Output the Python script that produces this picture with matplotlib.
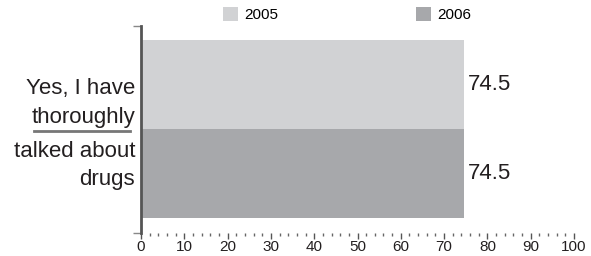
import matplotlib
matplotlib.use("Agg")
import matplotlib.pyplot as plt
from matplotlib.patches import Patch
from matplotlib.lines import Line2D
from matplotlib.ticker import MultipleLocator

categories = ["Yes, I have thoroughly talked about drugs"]
series_names = ["2005", "2006"]
values_2005 = [74.5]
values_2006 = [74.5]
colors = ["#d1d2d4", "#a7a8ab"]
x_ticks = [0, 10, 20, 30, 40, 50, 60, 70, 80, 90, 100]

FAM = ["Liberation Sans", "DejaVu Sans"]
plt.rcParams["font.family"] = FAM

W, H = 591, 256
fig = plt.figure(figsize=(W / 100, H / 100), dpi=100)

def fx(x):
    return x / W

def fy(y):
    return 1 - y / H

x0, x1 = 141, 574
ytop, ybot = 26, 233
ax = fig.add_axes([fx(x0), fy(ybot), (x1 - x0) / W, (ybot - ytop) / H])

bar_h = 0.99
ax.barh([0.5], values_2005, height=bar_h, color=colors[0], label=series_names[0], zorder=2)
ax.barh([-0.5], values_2006, height=bar_h, color=colors[1], label=series_names[1], zorder=2)

unit = (219 - 40) / 2.0  # px per data unit
ylo = -(ybot - 129) / unit
yhi = (129 - ytop) / unit
ax.set_ylim(ylo, yhi)
ax.set_xlim(0, 100)

for yv, v in zip([0.5, -0.5], [values_2005[0], values_2006[0]]):
    ax.annotate(f"{v}", xy=(v, yv), xytext=(3, 0), textcoords="offset points",
                ha="left", va="center", fontsize=16, color="#231f20")

ax.set_xticks(x_ticks)
ax.set_xticklabels([str(t) for t in x_ticks])
ax.xaxis.set_minor_locator(MultipleLocator(2))
ax.tick_params(axis="x", which="major", direction="out", length=4, width=1,
               color="#555555", labelsize=11, labelcolor="#231f20", pad=1)
ax.tick_params(axis="x", which="minor", direction="out", length=2, width=1,
               color="#666666")
ax.set_yticks([ylo, yhi])
ax.set_yticklabels([])
ax.tick_params(axis="y", direction="out", length=6, width=1, color="#888888")

for s in ["top", "right", "bottom"]:
    ax.spines[s].set_visible(False)
ax.spines["left"].set_color("#555555")
ax.spines["left"].set_linewidth(2)
ax.spines["left"].set_zorder(3)

lines = [("Yes, I have", 94), ("thoroughly", 123), ("talked about", 157), ("drugs", 185)]
for t, yb in lines:
    fig.text(fx(135), fy(yb), t, ha="right", va="baseline", fontsize=16, color="#231f20")
fig.add_artist(Line2D([fx(34), fx(130)], [fy(131), fy(131)], color="#777777", lw=2))

handles = [Patch(facecolor=colors[0], edgecolor="none"), Patch(facecolor=colors[1], edgecolor="none")]
fig.legend(handles, series_names, loc="upper left", bbox_to_anchor=(fx(223), fy(7)),
           ncol=2, frameon=False, fontsize=11, handlelength=1.0, handleheight=1.0,
           handletextpad=0.4, columnspacing=9.0, borderpad=0, borderaxespad=0)

fig.savefig("out.png", dpi=100)
